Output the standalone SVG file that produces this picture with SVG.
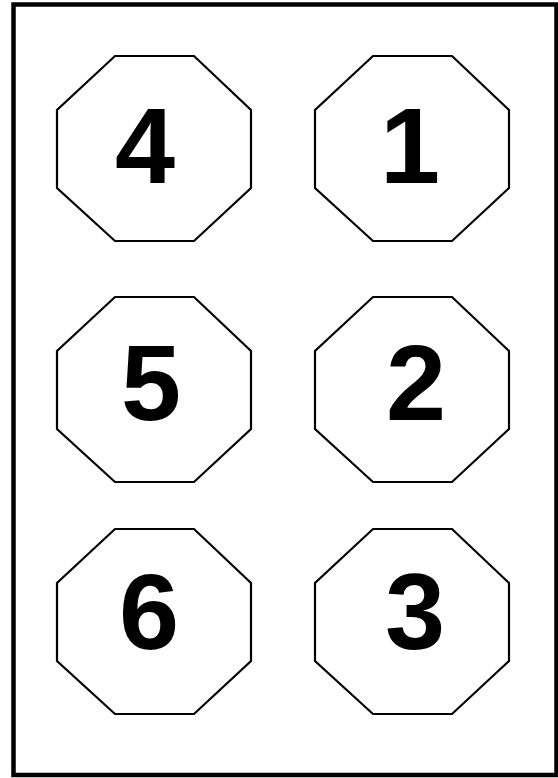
<svg xmlns="http://www.w3.org/2000/svg" xmlns:xlink="http://www.w3.org/1999/xlink" width="558" height="778" viewBox="0 0 558 778">
<style>
.oct{fill:none;stroke:#000;stroke-width:2.2}
.num{font-family:"Liberation Sans",Arial,sans-serif;font-weight:bold;font-size:108px;fill:#000;text-anchor:middle}
</style>
<defs>
<polygon id="octagon" class="oct" points="115,56 194,56 251,110 251,188 194,241 115,241 57,188 57,110"/>
</defs>
<rect x="0" y="0" width="558" height="778" fill="#fff"/>
<rect x="13.5" y="4.5" width="543" height="770.5" fill="none" stroke="#000" stroke-width="4.5"/>
<g id="node4"><use xlink:href="#octagon"/><text class="num" x="145" y="183">4</text></g>
<g id="node1"><use xlink:href="#octagon" transform="translate(258,0)"/><text class="num" x="410" y="183">1</text></g>
<g id="node5"><use xlink:href="#octagon" transform="translate(0,241)"/><text class="num" x="151" y="420">5</text></g>
<g id="node2"><use xlink:href="#octagon" transform="translate(258,241)"/><text class="num" x="416" y="420">2</text></g>
<g id="node6"><use xlink:href="#octagon" transform="translate(0,473)"/><text class="num" x="149" y="649">6</text></g>
<g id="node3"><use xlink:href="#octagon" transform="translate(258,473)"/><text class="num" x="415" y="649">3</text></g>
<g id="connectors"></g>
</svg>
